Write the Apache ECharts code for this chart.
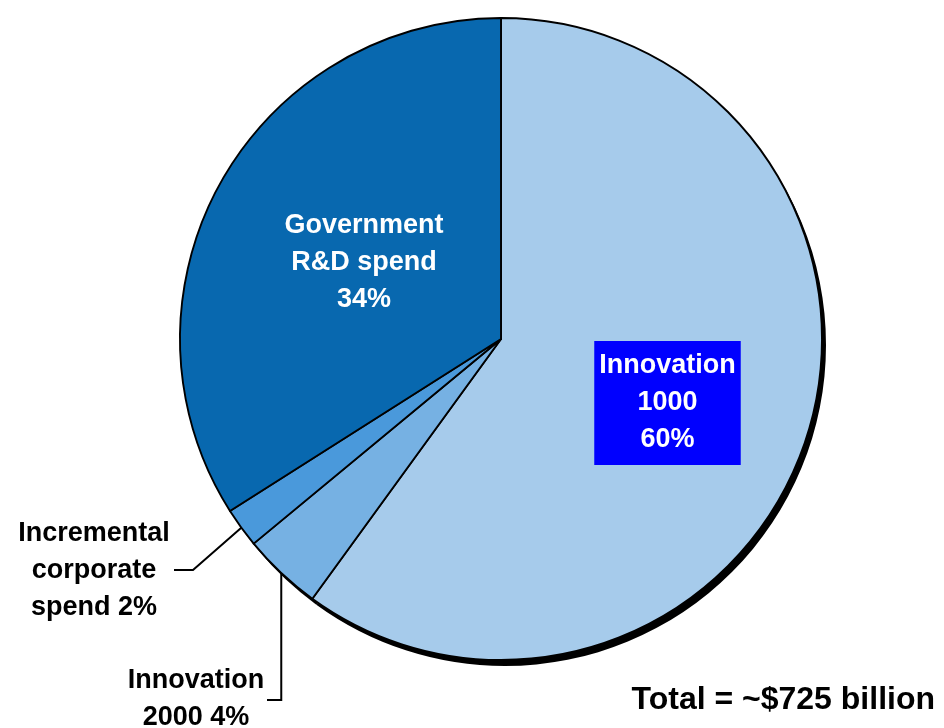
<!DOCTYPE html>
<html>
<head>
<meta charset="utf-8">
<script src="https://cdn.jsdelivr.net/npm/echarts@6.0.0/dist/echarts.min.js"></script>
<style>
  html, body { margin: 0; padding: 0; background: #fff; }
  #chart { width: 944px; height: 728px; }
</style>
</head>
<body>
<div id="chart"></div>
<script>
// Funding split, percent of total
const categories = ['Innovation 1000', 'Innovation 2000', 'Incremental corporate spend', 'Government R&D spend'];
const shares = [60, 4, 2, 34];
// label wording, the percent is appended to each stem
const labelStems = ['Innovation\n1000\n', 'Innovation\n2000 ', 'Incremental\ncorporate\nspend ', 'Government\nR&D spend\n'];
const totalNote = 'Total = ~$725 billion';

const sliceColors = ['#A6CBEB', '#76B1E3', '#4A99DB', '#0868AF'];
const FONT = '"Liberation Sans", Arial, Helvetica, sans-serif';

const CX = 501, CY = 339, R = 321;
// centre of each label block
const labelAnchors = [[667.5, 403], [196, 699], [94, 571], [364, 263]];
// leader lines for the two small slices
const leaderRoutes = {
  1: p0 => [p0, [p0[0], 700], [267, 700]],
  2: p0 => [p0, [193, 570], [174, 570]]
};
const insideLabels = [0, 3];

const chart = echarts.init(document.getElementById('chart'), null, { renderer: 'canvas' });

const sliceData = categories.map((name, i) => {
  const inside = insideLabels.includes(i);
  return {
    name,
    value: shares[i],
    itemStyle: { color: sliceColors[i] },
    label: inside
      ? {
          position: 'inside',
          color: '#fff',
          backgroundColor: i === 0 ? '#0000FF' : 'transparent',
          padding: i === 0 ? [7, 5, 6, 5] : 0
        }
      : { position: 'outside', color: '#000' },
    labelLine: { show: !inside }
  };
});

chart.setOption({
  animation: false,
  backgroundColor: '#fff',
  title: {
    text: totalNote,
    right: 9,
    top: 684,
    padding: 0,
    textStyle: { fontFamily: FONT, fontSize: 32, fontWeight: 'bold', color: '#000', lineHeight: 32 }
  },
  series: [
    {
      // drop shadow under the pie
      type: 'pie',
      silent: true,
      z: 1,
      center: [CX + 4, CY + 6],
      radius: R,
      startAngle: 90,
      clockwise: true,
      label: { show: false },
      labelLine: { show: false },
      emphasis: { disabled: true },
      itemStyle: { color: '#000', borderWidth: 0 },
      data: categories.map((name, i) => ({ name, value: shares[i] }))
    },
    {
      type: 'pie',
      z: 2,
      center: [CX, CY],
      radius: R,
      startAngle: 90,
      clockwise: true,
      avoidLabelOverlap: false,
      emphasis: { disabled: true },
      itemStyle: { borderColor: '#000', borderWidth: 1.9 },
      label: {
        show: true,
        fontFamily: FONT,
        fontSize: 27,
        fontWeight: 'bold',
        lineHeight: 37,
        align: 'center',
        formatter: p => labelStems[p.dataIndex] + Math.round(p.percent) + '%'
      },
      labelLine: {
        show: true,
        smooth: false,
        lineStyle: { color: '#000', width: 2 }
      },
      labelLayout: params => {
        const i = params.dataIndex;
        const a = labelAnchors[i];
        const res = { x: a[0], y: a[1], align: 'center', verticalAlign: 'middle' };
        if (leaderRoutes[i] && params.labelLinePoints) {
          res.labelLinePoints = leaderRoutes[i](params.labelLinePoints[0]);
        }
        return res;
      },
      data: sliceData
    }
  ]
});
</script>
</body>
</html>
